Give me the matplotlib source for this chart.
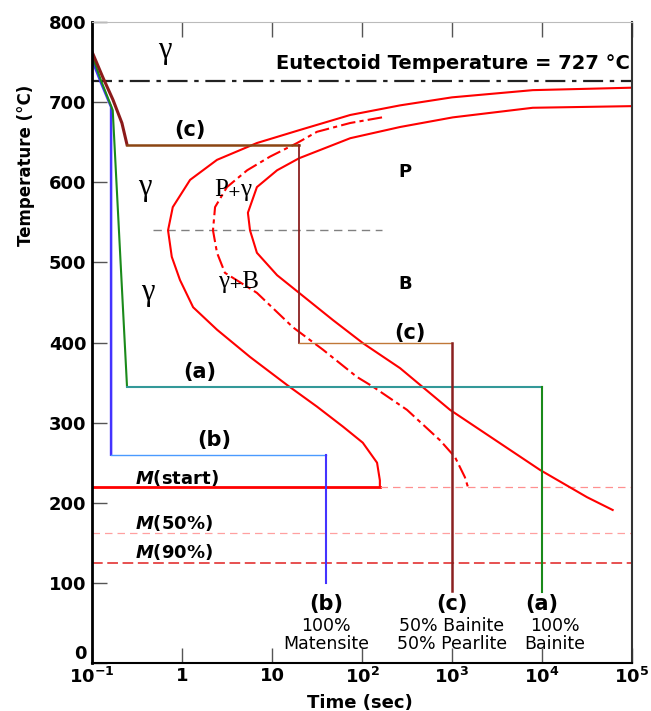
import matplotlib.pyplot as plt

# TTT diagram values: time (s), temperature (C)
start_t = [9.5e4, 7900, 1000, 265, 74, 20, 6.8, 2.45, 1.23, 0.79, 0.70, 0.77,
           0.95, 1.33, 2.45, 5.7, 14.7, 31.6, 61.5, 102, 147, 158, 158]
start_T = [718, 715, 706, 696, 684, 665, 649, 628, 603, 569, 540, 507,
           478, 444, 416, 382, 347, 320, 295, 275, 250, 228, 220]

half_t = [167, 74, 31.6, 19, 9.5, 5.3, 3.16, 2.33, 2.21, 2.45, 3.0, 6.8,
          17.1, 36.9, 88, 132, 316, 736, 1080, 1390, 1500]
half_T = [681, 674, 663, 649, 632, 615, 594, 569, 540, 512, 487, 462,
          419, 391, 357, 345, 316, 278, 257, 232, 220]

end_t = [9.5e4, 7900, 1020, 265, 74, 20, 11.4, 6.8, 5.4, 5.7, 6.8, 11.4,
         20, 47.6, 103, 265, 950, 9500, 31600, 61000]
end_T = [695, 693, 681, 669, 655, 630, 615, 594, 562, 540, 512, 484,
         462, 428, 399, 368, 316, 241, 207, 191]

# cooling paths
c_cool_t = [0.1, 0.132, 0.171, 0.215, 0.245]
c_cool_T = [763, 731, 703, 674, 647]
c_hold1_T = 647
c_step_t = 20
c_hold2_T = 400
c_end_t = 1000
c_end_T = 90

a_cool_t = [0.1, 0.126, 0.17, 0.245]
a_cool_T = [759, 727, 690, 345]
a_end_t = 1e4
a_end_T = 89

b_cool_t = [0.1, 0.125, 0.163, 0.163]
b_cool_T = [753, 725, 694, 260]
b_end_t = 40
b_end_T = 100

eutectoid_T = 727
nose_T = 540
nose_span = [0.48, 167]
ms_T, m50_T, m90_T = 220, 162, 125

x_ticks = [0.1, 1, 10, 100, 1000, 1e4, 1e5]
x_labels = [r'$\mathbf{10^{-1}}$', '1', '10', r'$\mathbf{10^{2}}$',
            r'$\mathbf{10^{3}}$', r'$\mathbf{10^{4}}$', r'$\mathbf{10^{5}}$']
y_ticks = [0, 100, 200, 300, 400, 500, 600, 700, 800]


def main():
    fig = plt.figure(figsize=(6.51, 7.11), dpi=100)
    ax = fig.add_axes([0.1413, 0.0675, 0.8295, 0.9015])
    ax.set_xscale('log')
    ax.set_xlim(0.1, 1e5)
    ax.set_ylim(0, 800)

    # eutectoid and helper lines
    ax.plot([0.1, 1e5], [eutectoid_T] * 2, color='#222222', lw=1.6,
            dashes=(9, 3, 2, 3))
    ax.plot(nose_span, [nose_T] * 2, color='gray', lw=1, dashes=(6, 4))

    # martensite lines
    ax.plot([0.1, start_t[-1]], [ms_T] * 2, color='red', lw=2)
    ax.plot([start_t[-1], 1e5], [ms_T] * 2, color='#ff9090', lw=0.9,
            dashes=(6, 4))
    ax.plot([0.1, 1e5], [m50_T] * 2, color='#ffa0a0', lw=0.9, dashes=(6, 4))
    ax.plot([0.1, 1e5], [m90_T] * 2, color='#e02020', lw=1.1, dashes=(7, 3))

    # C-curves
    ax.plot(start_t, start_T, color='red', lw=1.5)
    ax.plot(half_t, half_T, color='red', lw=1.5, dashes=(7, 2, 2, 2))
    ax.plot(end_t, end_T, color='red', lw=1.5)

    # path (b)
    ax.plot(b_cool_t, b_cool_T, color='#4433ff', lw=1.8)
    ax.plot([b_cool_t[-1], b_end_t], [b_cool_T[-1]] * 2, color='#4a9aff', lw=1)
    ax.plot([b_end_t, b_end_t], [b_cool_T[-1], b_end_T], color='#4433ff', lw=1.5)

    # path (a)
    ax.plot(a_cool_t, a_cool_T, color='#1a8a1a', lw=1.5)
    ax.plot([a_cool_t[-1], a_end_t], [a_cool_T[-1]] * 2, color='#339999', lw=1.5)
    ax.plot([a_end_t, a_end_t], [a_cool_T[-1], a_end_T], color='#1a8a1a', lw=1.5)

    # path (c)
    ax.plot(c_cool_t, c_cool_T, color='#8b1a1a', lw=2.2)
    ax.plot([c_cool_t[-1], c_step_t], [c_hold1_T] * 2, color='#8b4513', lw=1.8)
    ax.plot([c_step_t, c_step_t], [c_hold1_T, c_hold2_T], color='#8b2020', lw=1.3)
    ax.plot([c_step_t, c_end_t], [c_hold2_T] * 2, color='#c07838', lw=1)
    ax.plot([c_end_t, c_end_t], [c_hold2_T, c_end_T], color='#8b2020', lw=1.8)

    bold = dict(fontweight='bold', color='black')
    serif = dict(family=['Liberation Serif', 'DejaVu Sans'], color='black')
    ax.text(9.5e4, 737, 'Eutectoid Temperature = 727 \u00b0C', ha='right',
            va='bottom', fontsize=14, **bold)
    ax.text(0.65, 765, '\u03b3', fontsize=22, ha='center', va='center', **serif)
    ax.text(0.39, 594, '\u03b3', fontsize=22, ha='center', va='center', **serif)
    ax.text(0.42, 463, '\u03b3', fontsize=22, ha='center', va='center', **serif)
    ax.text(3.7, 590, 'P\u208a\u03b3', fontsize=18, ha='center', va='center', **serif)
    ax.text(4.2, 476, '\u03b3\u208aB', fontsize=18, ha='center', va='center', **serif)
    ax.text(300, 613, 'P', fontsize=13, ha='center', va='center', **bold)
    ax.text(300, 473, 'B', fontsize=13, ha='center', va='center', **bold)
    ax.text(1.23, 665, '(c)', fontsize=15, ha='center', va='center', **bold)
    ax.text(340, 412, '(c)', fontsize=15, ha='center', va='center', **bold)
    ax.text(1.58, 363, '(a)', fontsize=15, ha='center', va='center', **bold)
    ax.text(2.3, 278, '(b)', fontsize=15, ha='center', va='center', **bold)
    ax.text(0.3, 231, r'$\mathbfit{M}$(start)', fontsize=13, ha='left',
            va='center', **bold)
    ax.text(0.3, 175, r'$\mathbfit{M}$(50%)', fontsize=13, ha='left',
            va='center', **bold)
    ax.text(0.3, 139, r'$\mathbfit{M}$(90%)', fontsize=13, ha='left',
            va='center', **bold)

    ax.text(b_end_t, 74, '(b)', fontsize=15, ha='center', va='center', **bold)
    ax.text(b_end_t, 35, '100%\nMatensite', fontsize=12.5, ha='center',
            va='center', linespacing=0.95, color='black')
    ax.text(c_end_t, 74, '(c)', fontsize=15, ha='center', va='center', **bold)
    ax.text(c_end_t, 35, '50% Bainite\n50% Pearlite', fontsize=12.5,
            ha='center', va='center', linespacing=0.95, color='black')
    ax.text(a_end_t, 74, '(a)', fontsize=15, ha='center', va='center', **bold)
    ax.text(1.4e4, 35, '100%\nBainite', fontsize=12.5, ha='center',
            va='center', linespacing=0.95, color='black')

    ax.set_xticks(x_ticks)
    ax.set_xticklabels(x_labels)
    ax.minorticks_off()
    ax.set_yticks(y_ticks)
    ax.tick_params(axis='both', direction='in', length=11, width=1,
                   color='#555555', labelsize=13, pad=4)
    ax.tick_params(axis='x', top=True, pad=3)
    for lab in ax.get_xticklabels() + ax.get_yticklabels():
        lab.set_fontweight('bold')
    ax.get_yticklabels()[0].set_va('bottom')

    ax.spines['left'].set_linewidth(2)
    ax.spines['bottom'].set_linewidth(1.5)
    ax.spines['right'].set_linewidth(1.5)
    ax.spines['right'].set_color('#333333')
    ax.spines['top'].set_color('#bbbbbb')

    ax.set_xlabel('Time (sec)', fontsize=13, fontweight='bold')
    ax.xaxis.set_label_coords(0.497, -0.048)
    ax.set_ylabel('Temperature (\u00b0C)', fontsize=12, fontweight='bold')
    ax.yaxis.set_label_coords(-0.105, 0.777)

    fig.savefig('out.png', dpi=100)


if __name__ == "__main__":
    main()
